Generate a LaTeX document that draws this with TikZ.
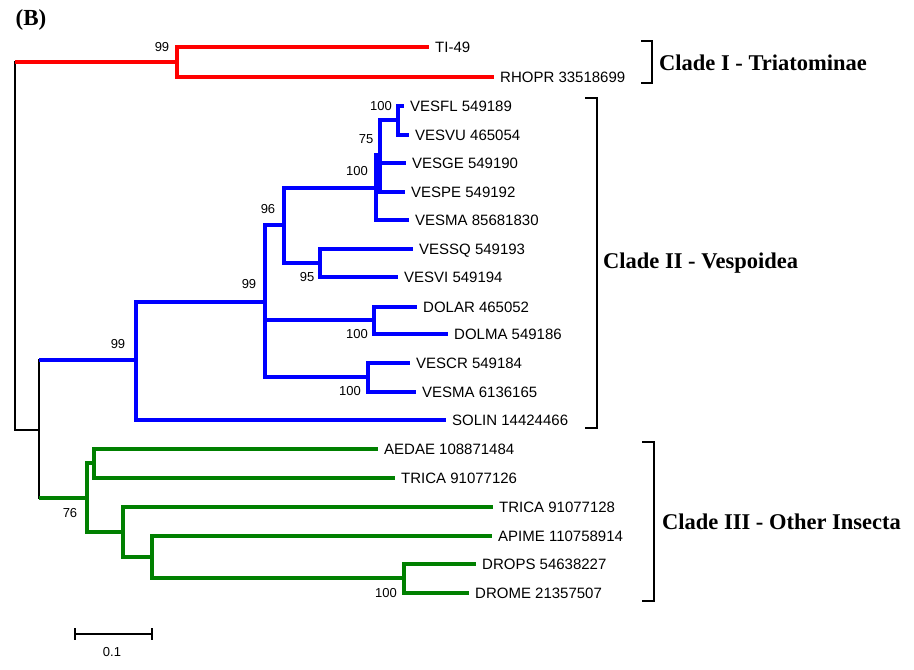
\documentclass[tikz,border=0pt]{standalone}
\usepackage{fontspec}
\setmainfont{Liberation Serif}
\setsansfont{Liberation Sans}
\definecolor{redc}{RGB}{255,0,0}
\definecolor{bluec}{RGB}{0,0,255}
\definecolor{greenc}{RGB}{0,128,0}
\begin{document}
\begin{tikzpicture}[x=1pt,y=-1pt,
  rb/.style={draw=redc, line width=3.2pt},
  bb/.style={draw=bluec, line width=3.2pt},
  gb/.style={draw=greenc, line width=3.2pt},
  kb/.style={draw=black, line width=1.6pt, line cap=rect},
  brk/.style={draw=black, line width=1.6pt},
  leaf/.style={font=\sffamily\fontsize{15}{15}\selectfont, anchor=west, inner xsep=6pt, inner ysep=0pt, text height=10.7pt, text depth=0pt},
  boot/.style={font=\sffamily\fontsize{13}{13}\selectfont, inner sep=0pt},
  clade/.style={font=\bfseries\fontsize{22.5}{22.5}\selectfont, anchor=west, inner sep=0pt},
]
\path[use as bounding box] (0,0) rectangle (914,670);

% panel label
\node[font=\bfseries\fontsize{23}{23}\selectfont, inner sep=0pt] (panel) at (31,20) {(B)};

% internal nodes
\coordinate (r)  at (15,246);
\coordinate (t1) at (177,62);
\coordinate (o1) at (39,430);
\coordinate (b1) at (136,360);
\coordinate (b2) at (265,302);
\coordinate (b3) at (284,225);
\coordinate (b4) at (376,188);
\coordinate (b5) at (380,155);
\coordinate (b9) at (398,120);
\coordinate (b6) at (320,263);
\coordinate (b7) at (374,320);
\coordinate (b8) at (368,377);
\coordinate (g1) at (87,498);
\coordinate (g2) at (94,463);
\coordinate (g3) at (123,532);
\coordinate (g4) at (152,557);
\coordinate (g5) at (404,578);

% leaves
\node[leaf] (lTI)      at (429,47)  {TI-49};
\node[leaf] (lRH)      at (494,77)  {RHOPR 33518699};
\node[leaf] (lVESFL)   at (404,106) {VESFL 549189};
\node[leaf] (lVESVU)   at (409,135) {VESVU 465054};
\node[leaf] (lVESGE)   at (406,163) {VESGE 549190};
\node[leaf] (lVESPE)   at (405,192) {VESPE 549192};
\node[leaf] (lVESMA85) at (409,220) {VESMA 85681830};
\node[leaf] (lVESSQ)   at (413,249) {VESSQ 549193};
\node[leaf] (lVESVI)   at (398,277) {VESVI 549194};
\node[leaf] (lDOLAR)   at (417,307) {DOLAR 465052};
\node[leaf] (lDOLMA)   at (448,334) {DOLMA 549186};
\node[leaf] (lVESCR)   at (410,363) {VESCR 549184};
\node[leaf] (lVESMA61) at (416,392) {VESMA 6136165};
\node[leaf] (lSOL)     at (446,420) {SOLIN 14424466};
\node[leaf] (lAEDAE)   at (378,449) {AEDAE 108871484};
\node[leaf] (lTRICA26) at (395,478) {TRICA 91077126};
\node[leaf] (lTRICA28) at (493,507) {TRICA 91077128};
\node[leaf] (lAPIME)   at (492,536) {APIME 110758914};
\node[leaf] (lDROPS)   at (476,564) {DROPS 54638227};
\node[leaf] (lDROME)   at (469,593) {DROME 21357507};

% root (black)
\draw[kb] (r |- t1) -- (r |- o1);
\draw[kb] (r |- o1) -- (o1);
\draw[kb] (o1 |- b1) -- (o1 |- g1);
\draw[rb] (r |- t1) -- (t1);
\draw[bb] (o1 |- b1) -- (b1);
\draw[gb] (o1 |- g1) -- (g1);

% clade I
\draw[rb] (t1) |- (lTI.west);
\draw[rb] (t1) |- (lRH.west);

% clade II
\draw[bb] (b1) |- (b2);
\draw[bb] (b1) |- (lSOL.west);
\draw[bb] (b2) |- (b3);
\draw[bb] (b2) |- (b7);
\draw[bb] (b2) |- (b8);
\draw[bb] (b3) |- (b4);
\draw[bb] (b3) |- (b6);
\draw[bb] (b4) |- (b5);
\draw[bb] (b4) |- (lVESMA85.west);
\draw[bb] (b5) |- (b9);
\draw[bb] (b5) |- (lVESGE.west);
\draw[bb] (b5) |- (lVESPE.west);
\draw[bb] (b9) |- (lVESFL.west);
\draw[bb] (b9) |- (lVESVU.west);
\draw[bb] (b6) |- (lVESSQ.west);
\draw[bb] (b6) |- (lVESVI.west);
\draw[bb] (b7) |- (lDOLAR.west);
\draw[bb] (b7) |- (lDOLMA.west);
\draw[bb] (b8) |- (lVESCR.west);
\draw[bb] (b8) |- (lVESMA61.west);

% clade III
\draw[gb] (g1) |- (g2);
\draw[gb] (g1) |- (g3);
\draw[gb] (g2) |- (lAEDAE.west);
\draw[gb] (g2) |- (lTRICA26.west);
\draw[gb] (g3) |- (lTRICA28.west);
\draw[gb] (g3) |- (g4);
\draw[gb] (g4) |- (lAPIME.west);
\draw[gb] (g4) |- (g5);
\draw[gb] (g5) |- (lDROPS.west);
\draw[gb] (g5) |- (lDROME.west);

% bootstrap values
\node[boot] (s1)  at (162,47)  {99};
\node[boot] (s2)  at (381,106) {100};
\node[boot] (s3)  at (366,139) {75};
\node[boot] (s4)  at (357,171) {100};
\node[boot] (s5)  at (268,209) {96};
\node[boot] (s6)  at (307,277) {95};
\node[boot] (s7)  at (249,284) {99};
\node[boot] (s8)  at (118,344) {99};
\node[boot] (s9)  at (357,334) {100};
\node[boot] (s10) at (350,391) {100};
\node[boot] (s11) at (70,513)  {76};
\node[boot] (s12) at (386,593) {100};

% brackets and clade names
\coordinate (c1t) at (641,41);  \coordinate (c1b) at (641,83);
\coordinate (c2t) at (585,98);  \coordinate (c2b) at (585,428);
\coordinate (c3t) at (642,442); \coordinate (c3b) at (642,601);
\draw[brk] (c1t) -- ++(11,0) |- (c1b);
\draw[brk] (c2t) -- ++(12,0) |- (c2b);
\draw[brk] (c3t) -- ++(12,0) |- (c3b);
\node[clade] (n1) at (659,63)  {Clade I - Triatominae};
\node[clade] (n2) at (603,263) {Clade II - Vespoidea};
\node[clade] (n3) at (662,522) {Clade III - Other Insecta};

% scale bar
\coordinate (sa) at (75,634);
\coordinate (sb) at (152,634);
\draw[brk] (sa) -- (sb);
\draw[brk] (sa) ++(0,-6) -- ++(0,12);
\draw[brk] (sb) ++(0,-6) -- ++(0,12);
\node[boot] (sl) at (112,652) {0.1};
\end{tikzpicture}
\end{document}
